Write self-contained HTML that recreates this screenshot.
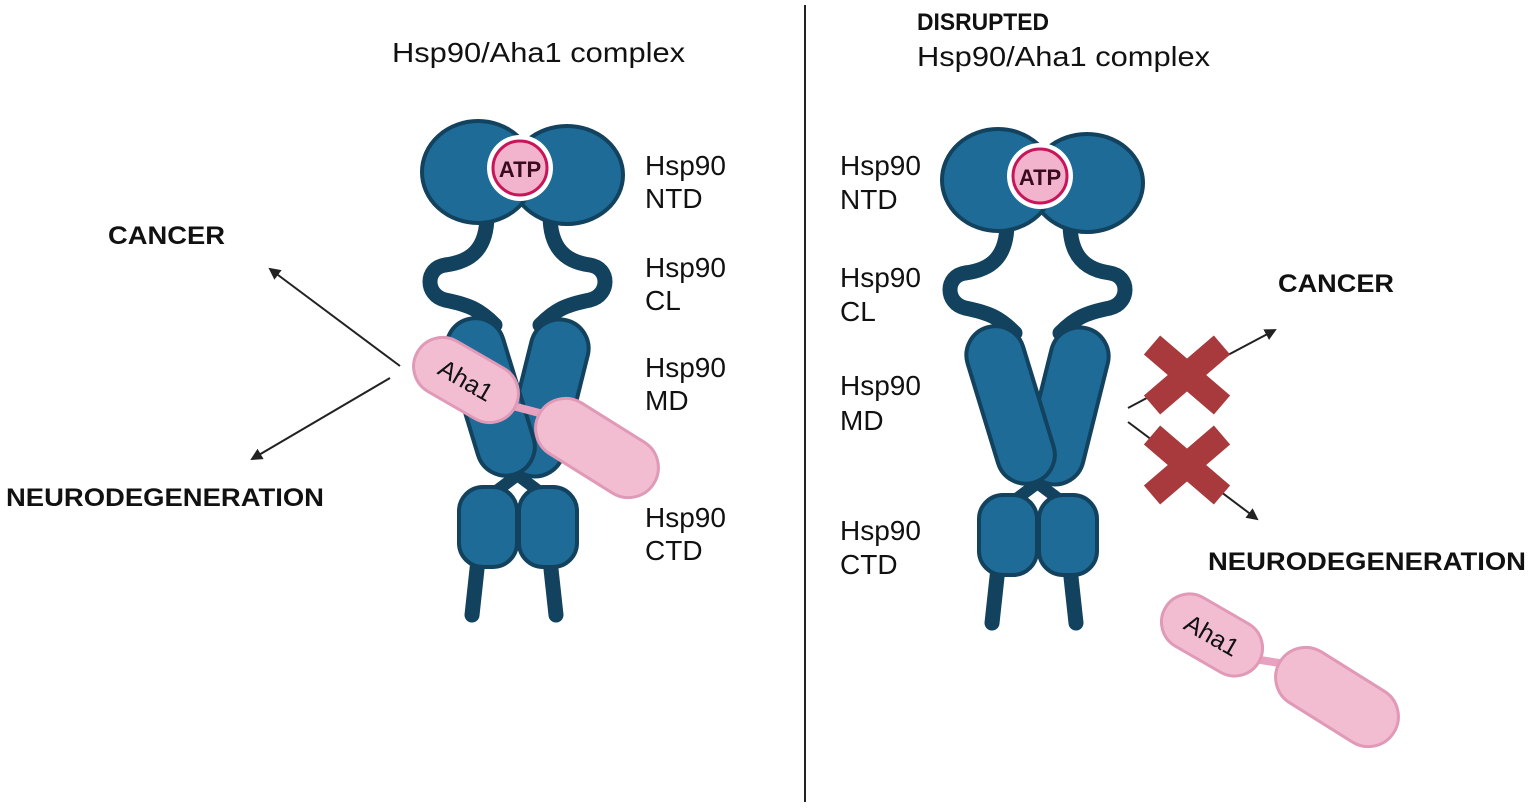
<!DOCTYPE html>
<html><head><meta charset="utf-8"><style>
html,body{margin:0;padding:0;background:#fff;}
svg{display:block;}
text{font-family:"Liberation Sans",sans-serif;}
</style></head><body>
<svg width="1535" height="809" viewBox="0 0 1535 809" xmlns="http://www.w3.org/2000/svg">
<defs>
<marker id="ah" markerWidth="12" markerHeight="12" refX="10" refY="6" orient="auto" markerUnits="userSpaceOnUse">
<path d="M0,0 L12,6 L0,12 Z" fill="#222"/></marker>
<g id="hsp">
 <line x1="478" y1="560" x2="472" y2="615" stroke="#12425e" stroke-width="15" stroke-linecap="round"/>
 <line x1="550" y1="560" x2="556" y2="615" stroke="#12425e" stroke-width="15" stroke-linecap="round"/>
 <path d="M487,215 C487,250 470,262 445,265 C425,268 425,295 445,300 C470,305 480,310 495,325" fill="none" stroke="#12425e" stroke-width="15" stroke-linecap="round"/>
 <path d="M550,215 C550,250 567,262 590,265 C610,268 610,295 590,300 C565,305 555,310 540,325" fill="none" stroke="#12425e" stroke-width="15" stroke-linecap="round"/>
 <path d="M500,462 L548,498 M535,462 L487,498" stroke="#12425e" stroke-width="12"/>
 <rect x="459" y="487" width="58" height="80" rx="24" fill="#1d6b96" stroke="#12425e" stroke-width="4"/>
 <rect x="519" y="487" width="58" height="80" rx="24" fill="#1d6b96" stroke="#12425e" stroke-width="4"/>
 <g transform="rotate(14 548 395)"><rect x="519" y="318" width="58" height="160" rx="29" fill="#1d6b96" stroke="#12425e" stroke-width="4"/></g>
 <g transform="rotate(-17 490 395)"><rect x="461" y="316" width="58" height="162" rx="29" fill="#1d6b96" stroke="#12425e" stroke-width="4"/></g>
 <ellipse cx="567" cy="175" rx="56" ry="49" fill="#1d6b96" stroke="#12425e" stroke-width="4"/>
 <ellipse cx="478" cy="172" rx="56" ry="51" fill="#1d6b96" stroke="#12425e" stroke-width="4"/>
 <path d="M506,124 Q518,116 520,134 Q522,116 534,124 L534,118 L506,118 Z" fill="#fff"/>
 <circle cx="520" cy="168" r="33" fill="#fff"/>
 <circle cx="520" cy="168" r="27" fill="#f2b3cc" stroke="#c8155a" stroke-width="3"/>
 <text x="520" y="177" text-anchor="middle" font-size="22" font-weight="bold" fill="#3a0a1e">ATP</text>
</g>
</defs>

<line x1="805" y1="5" x2="805" y2="802" stroke="#222" stroke-width="2"/>

<text x="392" y="62" font-size="28" fill="#111" textLength="293" lengthAdjust="spacingAndGlyphs">Hsp90/Aha1 complex</text>
<use href="#hsp"/>
<line x1="490" y1="400" x2="585" y2="425" stroke="#e8a2bf" stroke-width="8"/>
<g transform="rotate(32 597 448)"><rect x="530" y="418" width="134" height="60" rx="30" fill="#f2bdd0" stroke="#e099b6" stroke-width="3"/></g>
<g transform="rotate(30 466 380)"><rect x="410" y="351" width="112" height="58" rx="29" fill="#f2bdd0" stroke="#e099b6" stroke-width="3"/>
<text x="466" y="389" text-anchor="middle" font-size="25" fill="#111">Aha1</text></g>
<g font-size="28" fill="#111">
<text x="645" y="175">Hsp90</text><text x="645" y="208">NTD</text>
<text x="645" y="277">Hsp90</text><text x="645" y="310">CL</text>
<text x="645" y="377">Hsp90</text><text x="645" y="410">MD</text>
<text x="645" y="527">Hsp90</text><text x="645" y="560">CTD</text>
</g>
<text x="108" y="244" font-size="25" font-weight="bold" fill="#111" textLength="117" lengthAdjust="spacingAndGlyphs">CANCER</text>
<text x="6" y="506" font-size="25" font-weight="bold" fill="#111" textLength="318" lengthAdjust="spacingAndGlyphs">NEURODEGENERATION</text>
<line x1="400" y1="366" x2="270" y2="269" stroke="#222" stroke-width="2" marker-end="url(#ah)"/>
<line x1="390" y1="378" x2="252" y2="459" stroke="#222" stroke-width="2" marker-end="url(#ah)"/>

<text x="917" y="30" font-size="24" font-weight="bold" fill="#111" textLength="132" lengthAdjust="spacingAndGlyphs">DISRUPTED</text>
<text x="917" y="66" font-size="28" fill="#111" textLength="293" lengthAdjust="spacingAndGlyphs">Hsp90/Aha1 complex</text>
<g transform="translate(520,8)"><use href="#hsp"/></g>
<g font-size="28" fill="#111">
<text x="840" y="175">Hsp90</text><text x="840" y="209">NTD</text>
<text x="840" y="287">Hsp90</text><text x="840" y="321">CL</text>
<text x="840" y="395">Hsp90</text><text x="840" y="430">MD</text>
<text x="840" y="540">Hsp90</text><text x="840" y="574">CTD</text>
</g>
<text x="1278" y="292" font-size="25" font-weight="bold" fill="#111" textLength="116" lengthAdjust="spacingAndGlyphs">CANCER</text>
<text x="1208" y="570" font-size="25" font-weight="bold" fill="#111" textLength="318" lengthAdjust="spacingAndGlyphs">NEURODEGENERATION</text>
<line x1="1128" y1="408" x2="1275" y2="330" stroke="#222" stroke-width="2" marker-end="url(#ah)"/>
<line x1="1128" y1="422" x2="1257" y2="519" stroke="#222" stroke-width="2" marker-end="url(#ah)"/>
<g stroke="#a8393c" stroke-width="25">
<path d="M1152,345 L1222,405 M1222,345 L1152,405"/>
<path d="M1152,435 L1222,495 M1222,435 L1152,495"/>
</g>
<line x1="1230" y1="655" x2="1310" y2="668" stroke="#e8a2bf" stroke-width="8"/>
<g transform="rotate(32 1337 697)"><rect x="1270" y="667" width="134" height="60" rx="30" fill="#f2bdd0" stroke="#e099b6" stroke-width="3"/></g>
<g transform="rotate(30 1212 635)"><rect x="1158" y="607" width="108" height="56" rx="28" fill="#f2bdd0" stroke="#e099b6" stroke-width="3"/>
<text x="1212" y="644" text-anchor="middle" font-size="25" fill="#111">Aha1</text></g>
</svg>
</body></html>
